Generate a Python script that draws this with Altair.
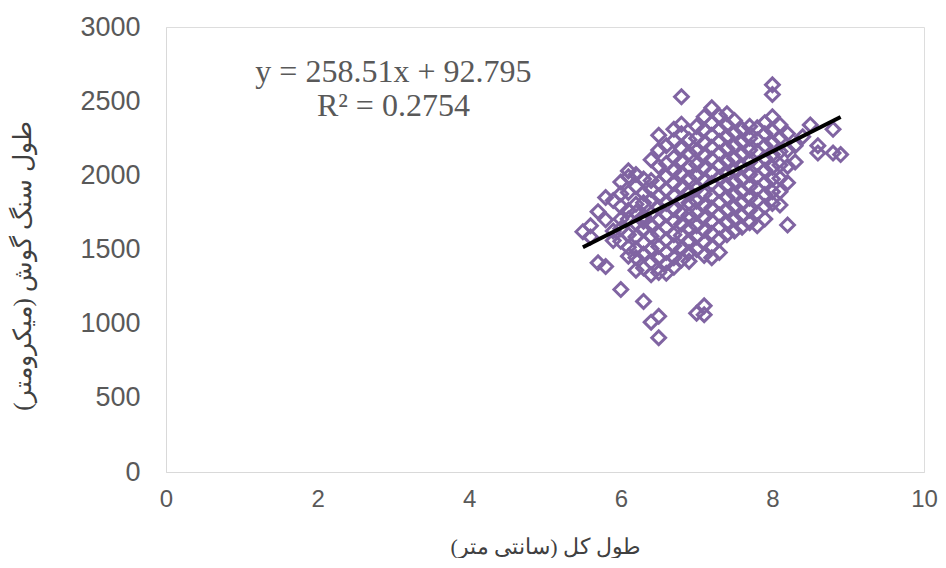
import altair as alt
import pandas as pd

# total length (cm) columns and otolith length (micrometre) values
x_cols = [5.5, 5.6, 5.7, 5.8, 5.9, 6.0, 6.1, 6.2, 6.3, 6.4, 6.5, 6.6, 6.7, 6.8, 6.9,
          7.0, 7.1, 7.2, 7.3, 7.4, 7.5, 7.6, 7.7, 7.8, 7.9, 8.0, 8.1, 8.2, 8.3, 8.4,
          8.5, 8.6, 8.8, 8.9]
y_cols = [
    [1620],
    [1585, 1660],
    [1410, 1755],
    [1385, 1700, 1850],
    [1560, 1625, 1830],
    [1230, 1555, 1640, 1705, 1790, 1875, 1955],
    [1455, 1515, 1600, 1705, 1765, 1885, 1990, 2030],
    [1360, 1445, 1505, 1585, 1675, 1750, 1805, 1925, 2005],
    [1150, 1375, 1470, 1545, 1640, 1690, 1725, 1815, 1880, 1975],
    [1010, 1330, 1415, 1505, 1590, 1665, 1740, 1835, 1905, 1965, 2105],
    [905, 1050, 1345, 1440, 1520, 1605, 1700, 1785, 1860, 1950, 2060, 2170, 2270],
    [1340, 1405, 1480, 1565, 1650, 1735, 1810, 1900, 1995, 2080, 2200],
    [1380, 1445, 1525, 1600, 1690, 1770, 1865, 1945, 2030, 2120, 2235, 2310],
    [1430, 1505, 1595, 1670, 1745, 1835, 1920, 2010, 2095, 2180, 2280, 2345, 2530],
    [1420, 1480, 1560, 1645, 1730, 1815, 1890, 1980, 2060, 2150, 2240],
    [1070, 1500, 1585, 1660, 1745, 1825, 1910, 1995, 2075, 2165, 2250, 2330],
    [1060, 1120, 1460, 1550, 1630, 1715, 1800, 1875, 1965, 2050, 2135, 2220, 2305, 2395],
    [1445, 1520, 1610, 1690, 1780, 1860, 1945, 2020, 2110, 2190, 2270, 2350, 2455],
    [1480, 1570, 1650, 1735, 1815, 1900, 1985, 2070, 2150, 2230, 2310, 2400],
    [1600, 1680, 1765, 1850, 1930, 2010, 2095, 2180, 2260, 2340, 2415],
    [1625, 1705, 1790, 1870, 1955, 2035, 2115, 2200, 2285, 2370],
    [1650, 1730, 1815, 1895, 1975, 2060, 2145, 2225, 2310],
    [1680, 1765, 1845, 1925, 2005, 2090, 2170, 2250, 2330],
    [1660, 1745, 1830, 1910, 1990, 2075, 2160, 2240, 2320],
    [1705, 1790, 1870, 1950, 2035, 2115, 2200, 2280, 2355],
    [1810, 1890, 1975, 2055, 2140, 2220, 2300, 2395, 2545, 2610],
    [1800, 1890, 1980, 2070, 2160, 2250, 2340],
    [1665, 1950, 2060, 2170, 2280],
    [2090, 2200],
    [2260],
    [2340],
    [2150, 2200],
    [2150, 2310],
    [2140],
]

# linear trendline as printed on the chart
slope = 258.51
intercept = 92.795
trend_x = [5.5, 8.9]

x_ticks = [0, 2, 4, 6, 8, 10]
y_ticks = [0, 500, 1000, 1500, 2000, 2500, 3000]

eq_text = "y = 258.51x + 92.795\nR² = 0.2754"
eq_pos_x = 3.0
eq_pos_y = 2697

RLM = "\u200f"
x_title = RLM + "طول کل (سانتی متر)" + RLM
y_title = RLM + "طول سنگ گوش (میکرومتر)" + RLM

points_df = pd.DataFrame(
    [{"x": x, "y": y} for x, ys in zip(x_cols, y_cols) for y in ys]
)
trend_df = pd.DataFrame({"x": trend_x, "y": [slope * v + intercept for v in trend_x]})
eq_df = pd.DataFrame({"x": [eq_pos_x], "y": [eq_pos_y], "t": [eq_text]})

W, H = 758, 445

x_enc = alt.X(
    "x:Q",
    scale=alt.Scale(domain=[0, 10], nice=False, zero=False),
    axis=alt.Axis(
        values=x_ticks, title=x_title, ticks=False, grid=False, format="d",
        labelFlush=False,
        domainColor="#D9D9D9", domainWidth=1,
        labelColor="#595959", labelFont="Liberation Sans", labelFontSize=24,
        labelPadding=15,
        titleFont="Liberation Serif", titleFontSize=22, titleFontWeight="normal",
        titleColor="#404040", titleX=W / 2, titleY=74, titleBaseline="middle",
        titleAlign="center",
    ),
)
y_enc = alt.Y(
    "y:Q",
    scale=alt.Scale(domain=[0, 3000], nice=False),
    axis=alt.Axis(
        values=y_ticks, title=y_title, ticks=False, grid=False, format="d",
        labelFlush=False,
        domainColor="#D9D9D9", domainWidth=1,
        labelColor="#595959", labelFont="Liberation Sans", labelFontSize=27,
        labelPadding=26,
        titleFont="Liberation Serif", titleFontSize=25, titleFontWeight="normal",
        titleColor="#404040", titleX=-144, titleY=H / 2 + 16, titleBaseline="middle",
        titleAlign="center", titleAngle=270,
    ),
)

points = alt.Chart(points_df).mark_point(
    shape="diamond", filled=False, color="#8064A2", size=190, strokeWidth=3,
    opacity=1,
).encode(x=x_enc, y=y_enc)

trend = alt.Chart(trend_df).mark_line(color="black", strokeWidth=4).encode(
    x=x_enc, y=y_enc
)

eq = alt.Chart(eq_df).mark_text(
    font="Liberation Serif", fontSize=32, color="#595959", align="center",
    baseline="middle", lineBreak="\n", lineHeight=34,
).encode(x=x_enc, y=y_enc, text="t:N")

chart = alt.layer(points, trend, eq).properties(
    width=W, height=H,
    padding={"left": 158, "top": 19, "right": 14, "bottom": 86},
    autosize=alt.AutoSizeParams(type="none"),
).configure_view(stroke=None).configure(background="white")

chart.save("out.html", embed_options={"renderer": "svg", "actions": False})
